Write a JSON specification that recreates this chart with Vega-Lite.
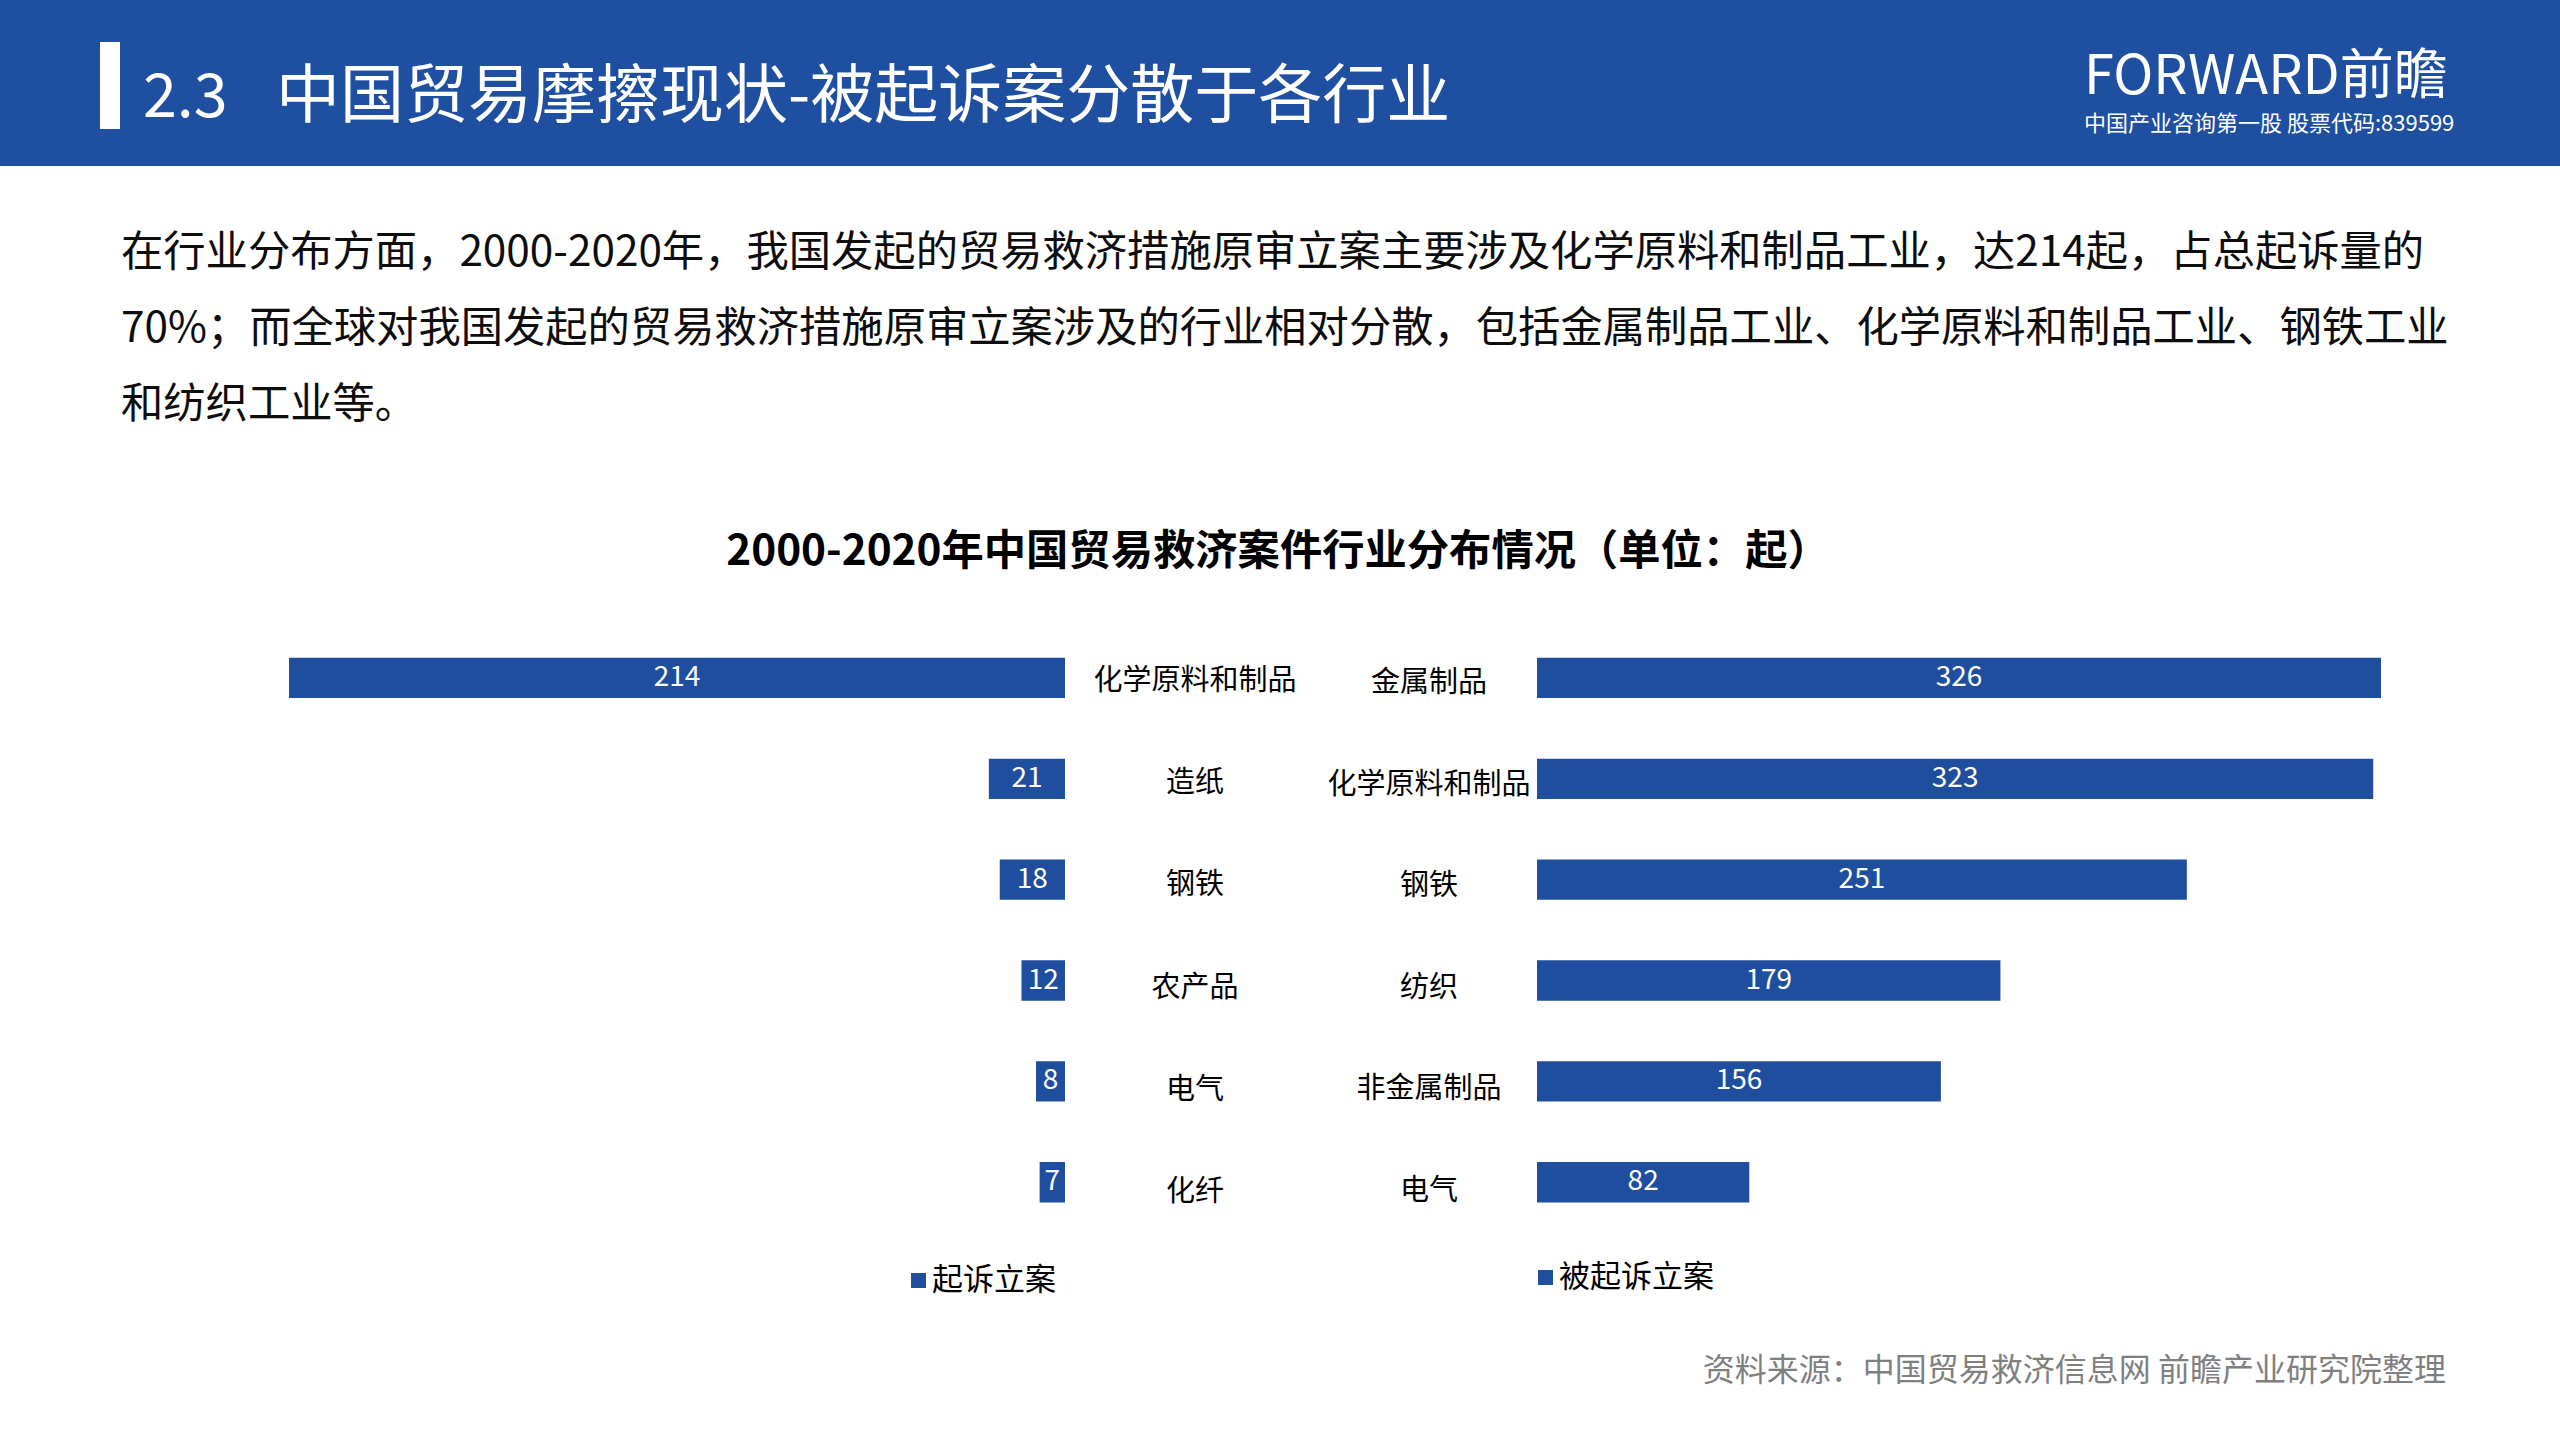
{
  "$schema": "https://vega.github.io/schema/vega-lite/v6.json",
  "width": 2560,
  "height": 1440,
  "autosize": {"type": "fit", "contains": "padding"},
  "padding": 0,
  "background": "#FFFFFF",
  "config": {"view": {"stroke": null}, "font": "Noto Sans CJK SC"},
  "data": {"values": [{}]},
  "datasets": {
    "filed": [
      {"industry": "化学原料和制品", "cases": 214, "series": "起诉立案"},
      {"industry": "造纸", "cases": 21, "series": "起诉立案"},
      {"industry": "钢铁", "cases": 18, "series": "起诉立案"},
      {"industry": "农产品", "cases": 12, "series": "起诉立案"},
      {"industry": "电气", "cases": 8, "series": "起诉立案"},
      {"industry": "化纤", "cases": 7, "series": "起诉立案"}
    ],
    "against": [
      {"industry": "金属制品", "cases": 326, "series": "被起诉立案"},
      {"industry": "化学原料和制品", "cases": 323, "series": "被起诉立案"},
      {"industry": "钢铁", "cases": 251, "series": "被起诉立案"},
      {"industry": "纺织", "cases": 179, "series": "被起诉立案"},
      {"industry": "非金属制品", "cases": 156, "series": "被起诉立案"},
      {"industry": "电气", "cases": 82, "series": "被起诉立案"}
    ]
  },
  "layer": [
    {
      "mark": {"type": "rect", "x": 0, "x2": 2560, "y": 0, "y2": 166, "color": "#1F4FA1"},
      "encoding": {}
    },
    {
      "mark": {"type": "rect", "x": 100, "x2": 120, "y": 42, "y2": 129, "color": "#FFFFFF"},
      "encoding": {}
    },
    {
      "mark": {"type": "text", "text": "2.3", "x": 143, "y": 117, "align": "left", "baseline": "alphabetic", "fontSize": 61, "color": "#FFFFFF", "font": "Noto Sans CJK SC"},
      "encoding": {}
    },
    {
      "mark": {"type": "text", "text": "中国贸易摩擦现状-被起诉案分散于各行业", "x": 276, "y": 117, "align": "left", "baseline": "alphabetic", "fontSize": 64, "color": "#FFFFFF", "font": "Noto Sans CJK SC"},
      "encoding": {}
    },
    {
      "mark": {"type": "text", "text": "FORWARD前瞻", "x": 2084, "y": 94, "align": "left", "baseline": "alphabetic", "fontSize": 54, "color": "#FFFFFF", "font": "Noto Sans CJK SC"},
      "encoding": {}
    },
    {
      "mark": {"type": "text", "text": "中国产业咨询第一股 股票代码:839599", "x": 2084, "y": 131, "align": "left", "baseline": "alphabetic", "fontSize": 22, "color": "#FFFFFF", "font": "Noto Sans CJK SC"},
      "encoding": {}
    },
    {
      "mark": {
        "type": "text",
        "text": [
          "在行业分布方面，2000-2020年，我国发起的贸易救济措施原审立案主要涉及化学原料和制品工业，达214起，占总起诉量的",
          "70%；而全球对我国发起的贸易救济措施原审立案涉及的行业相对分散，包括金属制品工业、化学原料和制品工业、钢铁工业",
          "和纺织工业等。"
        ],
        "x": 121, "y": 266, "lineHeight": 76, "align": "left", "baseline": "alphabetic",
        "fontSize": 42.3, "color": "#0D0D0D", "font": "Noto Sans CJK SC"
      },
      "encoding": {}
    },
    {
      "mark": {"type": "text", "text": "2000-2020年中国贸易救济案件行业分布情况（单位：起）", "x": 1278, "y": 565, "align": "center", "baseline": "alphabetic", "fontSize": 42.3, "fontWeight": "bold", "color": "#000000", "font": "Noto Sans CJK SC"},
      "encoding": {}
    },
    {
      "data": {"name": "filed"},
      "mark": {"type": "bar"},
      "encoding": {
        "y": {
          "field": "industry", "type": "nominal", "sort": null,
          "scale": {"range": [627.5, 1232.7], "paddingInner": 0.6, "paddingOuter": 0.3},
          "axis": null
        },
        "x": {"field": "cases", "type": "quantitative", "scale": {"domain": [0, 214], "range": [1065, 289], "nice": false}, "axis": null},
        "color": {
          "field": "series", "type": "nominal",
          "scale": {"domain": ["起诉立案"], "range": ["#1F4E9E"]},
          "legend": {"orient": "none", "legendX": 903, "legendY": 1265, "title": null, "symbolType": "square", "symbolSize": 225,
                     "symbolStrokeWidth": 0, "labelFontSize": 31, "labelColor": "#000000", "labelFont": "Noto Sans CJK SC", "labelOffset": -2, "padding": 0}
        }
      }
    },
    {
      "data": {"name": "filed"},
      "mark": {"type": "text", "color": "#FFFFFF", "fontSize": 28, "font": "Noto Sans CJK SC", "align": "center", "baseline": "middle"},
      "encoding": {
        "y": {"field": "industry", "type": "nominal", "sort": null, "scale": {"range": [627.5, 1232.7], "paddingInner": 0.6, "paddingOuter": 0.3}, "axis": null},
        "x": {"field": "cases", "type": "quantitative", "scale": {"domain": [0, 428], "range": [1065, 289], "nice": false}, "axis": null},
        "text": {"field": "cases", "type": "quantitative"}
      }
    },
    {
      "data": {"name": "filed"},
      "mark": {"type": "text", "color": "#000000", "fontSize": 29, "font": "Noto Sans CJK SC", "align": "center", "baseline": "middle", "dx": 130},
      "encoding": {
        "y": {"field": "industry", "type": "nominal", "sort": null, "scale": {"type": "point", "range": [681, 1192], "padding": 0}, "axis": null},
        "x": {"datum": 0, "type": "quantitative", "scale": {"domain": [0, 214], "range": [1065, 289], "nice": false}, "axis": null},
        "text": {"field": "industry", "type": "nominal"}
      }
    },
    {
      "data": {"name": "against"},
      "mark": {"type": "bar"},
      "encoding": {
        "y": {
          "field": "industry", "type": "nominal", "sort": null,
          "scale": {"range": [627.5, 1232.7], "paddingInner": 0.6, "paddingOuter": 0.3},
          "axis": null
        },
        "x": {"field": "cases", "type": "quantitative", "scale": {"domain": [0, 326], "range": [1537, 2381], "nice": false}, "axis": null},
        "color": {
          "field": "series", "type": "nominal",
          "scale": {"domain": ["被起诉立案"], "range": ["#1F4E9E"]},
          "legend": {"orient": "none", "legendX": 1530, "legendY": 1262, "title": null, "symbolType": "square", "symbolSize": 225,
                     "symbolStrokeWidth": 0, "labelFontSize": 31, "labelColor": "#000000", "labelFont": "Noto Sans CJK SC", "labelOffset": -2, "padding": 0}
        }
      }
    },
    {
      "data": {"name": "against"},
      "mark": {"type": "text", "color": "#FFFFFF", "fontSize": 28, "font": "Noto Sans CJK SC", "align": "center", "baseline": "middle"},
      "encoding": {
        "y": {"field": "industry", "type": "nominal", "sort": null, "scale": {"range": [627.5, 1232.7], "paddingInner": 0.6, "paddingOuter": 0.3}, "axis": null},
        "x": {"field": "cases", "type": "quantitative", "scale": {"domain": [0, 652], "range": [1537, 2381], "nice": false}, "axis": null},
        "text": {"field": "cases", "type": "quantitative"}
      }
    },
    {
      "data": {"name": "against"},
      "mark": {"type": "text", "color": "#000000", "fontSize": 29, "font": "Noto Sans CJK SC", "align": "center", "baseline": "middle", "dx": -108},
      "encoding": {
        "y": {"field": "industry", "type": "nominal", "sort": null, "scale": {"type": "point", "range": [683, 1191], "padding": 0}, "axis": null},
        "x": {"datum": 0, "type": "quantitative", "scale": {"domain": [0, 326], "range": [1537, 2381], "nice": false}, "axis": null},
        "text": {"field": "industry", "type": "nominal"}
      }
    },
    {
      "mark": {"type": "text", "text": "资料来源：中国贸易救济信息网  前瞻产业研究院整理", "x": 2446, "y": 1381, "align": "right", "baseline": "alphabetic", "fontSize": 32, "color": "#7F7F7F", "font": "Noto Sans CJK SC"},
      "encoding": {}
    }
  ],
  "resolve": {
    "scale": {"x": "independent", "y": "independent", "color": "independent"},
    "axis": {"x": "independent", "y": "independent"},
    "legend": {"color": "independent"}
  }
}
